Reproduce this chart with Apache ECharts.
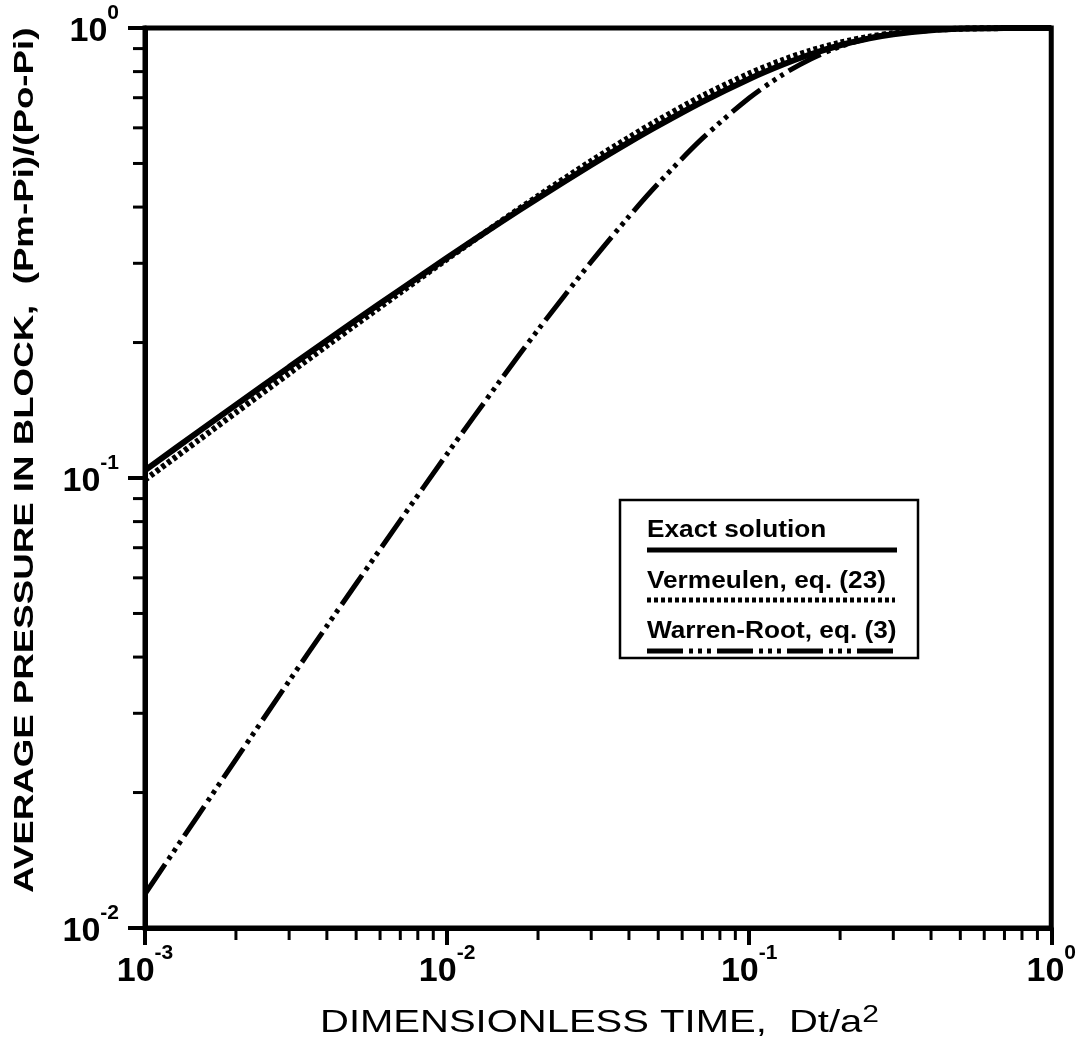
<!DOCTYPE html>
<html>
<head>
<meta charset="utf-8">
<script src="https://cdn.jsdelivr.net/npm/echarts@6/dist/echarts.min.js"></script>
<style>
  html, body { margin: 0; padding: 0; background: #fff; }
  #chart { width: 1079px; height: 1045px; }
</style>
</head>
<body>
<div id="chart"></div>
<script>
// ---- data ----
const times = [0.001, 0.0015, 0.002, 0.003, 0.004, 0.005, 0.007, 0.01, 0.015, 0.02, 0.03, 0.04, 0.05, 0.07, 0.1, 0.13, 0.16, 0.2, 0.25, 0.3, 0.4, 0.5, 0.7, 1.0];
const exactValues = [0.104, 0.1266, 0.1454, 0.1764, 0.2021, 0.2244, 0.2622, 0.3085, 0.3696, 0.4187, 0.4963, 0.557, 0.6069, 0.6856, 0.7705, 0.8306, 0.8744, 0.9155, 0.9484, 0.9685, 0.9883, 0.9956, 0.9994, 1.0];
const vermeulenValues = [0.0991, 0.1212, 0.1398, 0.1708, 0.1968, 0.2194, 0.2584, 0.3066, 0.371, 0.4232, 0.5063, 0.5711, 0.6241, 0.7063, 0.792, 0.8502, 0.891, 0.928, 0.9567, 0.9738, 0.9903, 0.9964, 0.9995, 1.0];
const warrenRootValues = [0.0119, 0.0178, 0.0237, 0.0354, 0.0469, 0.0582, 0.0805, 0.1131, 0.1647, 0.2134, 0.3023, 0.3812, 0.4512, 0.5683, 0.6988, 0.7899, 0.8534, 0.9093, 0.9502, 0.9727, 0.9918, 0.9975, 0.9998, 1.0];
const seriesNames = ['Exact solution', 'Vermeulen, eq. (23)', 'Warren-Root, eq. (3)'];
const xMinorTicks = [0.002,0.003,0.004,0.005,0.006,0.007,0.008,0.009,0.02,0.03,0.04,0.05,0.06,0.07,0.08,0.09,0.2,0.3,0.4,0.5,0.6,0.7,0.8,0.9];
const yMinorTicks = [0.02,0.03,0.04,0.05,0.06,0.07,0.08,0.09,0.2,0.3,0.4,0.5,0.6,0.7,0.8,0.9];
const xTitle = 'DIMENSIONLESS TIME,  Dt/a';
const xTitleSup = '2';
const yTitle = 'AVERAGE PRESSURE IN BLOCK,  (Pm-Pi)/(Po-Pi)';

const FONT = '"Liberation Sans", Arial, Helvetica, sans-serif';
const pairs = vals => times.map((t, i) => [t, vals[i]]);
const X_MIN = 0.001, X_MAX = 1, Y_MIN = 0.01, Y_MAX = 1;

const expLabel = v => '{b|10}{s|' + Math.round(Math.log10(v)) + '}';
const labelRich = {
  b: { fontSize: 34, fontWeight: 'bold', fontFamily: FONT, color: '#000', lineHeight: 46, verticalAlign: 'bottom' },
  s: { fontSize: 21, fontWeight: 'bold', fontFamily: FONT, color: '#000', lineHeight: 12, verticalAlign: 'top' }
};

const chart = echarts.init(document.getElementById('chart'), null, { renderer: 'canvas' });

const wrDash = [36, 6, 4, 5, 4, 5, 4, 6];
const legendFont = 'bold 23px ' + FONT;

chart.setOption({
  backgroundColor: '#fff',
  animation: false,
  grid: { left: 145, right: 27, top: 28, bottom: 117, show: true, borderColor: '#000', borderWidth: 5, backgroundColor: 'transparent' },
  xAxis: {
    type: 'log', logBase: 10, min: X_MIN, max: X_MAX, splitNumber: 3,
    axisLine: { show: true, lineStyle: { color: '#000', width: 5 } },
    axisTick: { show: true, length: 17, lineStyle: { color: '#000', width: 4 } },
    splitLine: { show: false },
    axisLabel: { margin: 15, formatter: expLabel, rich: labelRich }
  },
  yAxis: {
    type: 'log', logBase: 10, min: Y_MIN, max: Y_MAX, splitNumber: 2,
    axisLine: { show: true, lineStyle: { color: '#000', width: 5 } },
    axisTick: { show: true, length: 17, lineStyle: { color: '#000', width: 4 } },
    splitLine: { show: false },
    axisLabel: { margin: 26, padding: [0, 0, 5, 0], formatter: expLabel, rich: labelRich }
  },
  series: [
    {
      name: seriesNames[0], type: 'line', data: pairs(exactValues), smooth: 0.3, symbol: 'none',
      lineStyle: { color: '#000', width: 6, type: 'solid' }, z: 3
    },
    {
      name: seriesNames[1], type: 'line', data: pairs(vermeulenValues), smooth: 0.3, symbol: 'none',
      lineStyle: { color: '#000', width: 6, type: [4, 3], cap: 'butt' }, z: 2
    },
    {
      name: seriesNames[2], type: 'line', data: pairs(warrenRootValues), smooth: 0.3, symbol: 'none',
      lineStyle: { color: '#000', width: 5, type: wrDash, cap: 'butt' }, z: 2
    },
    {
      type: 'custom', silent: true, clip: false, z: 5,
      data: xMinorTicks.map(v => [v, Y_MIN]),
      renderItem: (params, api) => {
        const p = api.coord([api.value(0), api.value(1)]);
        return { type: 'line', shape: { x1: p[0], y1: p[1], x2: p[0], y2: p[1] + 12 }, style: { stroke: '#000', lineWidth: 3 } };
      }
    },
    {
      type: 'custom', silent: true, clip: false, z: 5,
      data: yMinorTicks.map(v => [X_MIN, v]),
      renderItem: (params, api) => {
        const p = api.coord([api.value(0), api.value(1)]);
        return { type: 'line', shape: { x1: p[0] - 12, y1: p[1], x2: p[0], y2: p[1] }, style: { stroke: '#000', lineWidth: 3 } };
      }
    }
  ],
  graphic: [
    { type: 'rect', z: 100, shape: { x: 620, y: 500, width: 298, height: 158 }, style: { fill: '#fff', stroke: '#000', lineWidth: 2.5 } },
    { type: 'text', z: 101, x: 647, y: 531, scaleX: 1.14, style: { text: seriesNames[0], font: legendFont, fill: '#000', textAlign: 'left', verticalAlign: 'middle', textVerticalAlign: 'middle' } },
    { type: 'line', z: 101, shape: { x1: 647, y1: 550, x2: 897, y2: 550 }, style: { stroke: '#000', lineWidth: 5 } },
    { type: 'text', z: 101, x: 647, y: 582, scaleX: 1.14, style: { text: seriesNames[1], font: legendFont, fill: '#000', textAlign: 'left', verticalAlign: 'middle', textVerticalAlign: 'middle' } },
    { type: 'line', z: 101, shape: { x1: 647, y1: 600, x2: 895, y2: 600 }, style: { stroke: '#000', lineWidth: 5, lineDash: [4, 3] } },
    { type: 'text', z: 101, x: 647, y: 632, scaleX: 1.14, style: { text: seriesNames[2], font: legendFont, fill: '#000', textAlign: 'left', verticalAlign: 'middle', textVerticalAlign: 'middle' } },
    { type: 'line', z: 101, shape: { x1: 647, y1: 651, x2: 897, y2: 651 }, style: { stroke: '#000', lineWidth: 5, lineDash: wrDash } },
    { type: 'text', z: 101, x: 25, y: 893, rotation: Math.PI / 2, scaleX: 1.31, style: { text: yTitle, font: 'bold 28px ' + FONT, fill: '#000', textAlign: 'left', verticalAlign: 'middle', textVerticalAlign: 'middle' } },
    { type: 'text', z: 101, x: 320, y: 1021, scaleX: 1.25, style: {
        text: '{n|' + xTitle + '}{s|' + xTitleSup + '}', textAlign: 'left', verticalAlign: 'middle', textVerticalAlign: 'middle', fill: '#000',
        rich: { n: { fontSize: 32, fontFamily: FONT, color: '#000', lineHeight: 36, verticalAlign: 'bottom' }, s: { fontSize: 24, fontFamily: FONT, color: '#000', lineHeight: 20, verticalAlign: 'top' } }
      } }
  ]
});
</script>
</body>
</html>
